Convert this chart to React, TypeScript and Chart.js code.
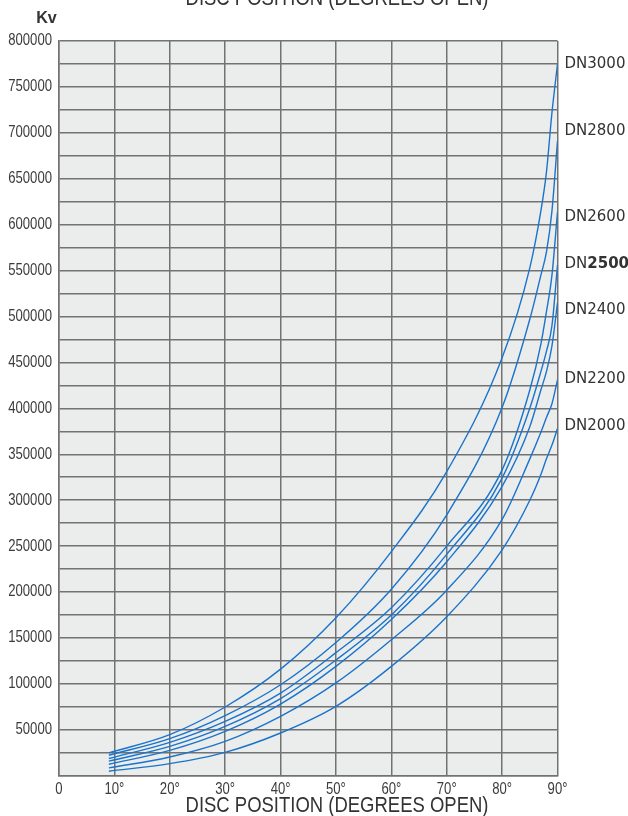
import React, { useEffect, useRef } from "react";
import { Chart, registerables } from "chart.js";

Chart.register(...registerables);

// ---------- data ----------
const ANGLES = [9, 20, 30, 40, 50, 60, 70, 80, 85, 87, 88, 89, 90];

const SERIES_NAMES = ["DN3000", "DN2800", "DN2600", "DN2500", "DN2400", "DN2200", "DN2000"];

const DN3000 = [24900, 44700, 74800, 116000, 172000, 244000, 331000, 455000, 553000, 615000, 657000, 722000, 775000];
const DN2800 = [22300, 40300, 65400, 99000, 145000, 203000, 284000, 401000, 497000, 545000, 570000, 615000, 691000];
const DN2600 = [18700, 36300, 59200, 90000, 134000, 183000, 250000, 333000, 420000, 470000, 505000, 545000, 614000];
const DN2500 = [15800, 31900, 53700, 84000, 126000, 175000, 241000, 324000, 400000, 440000, 462000, 490000, 556000];
const DN2400 = [12500, 27600, 48300, 78000, 119000, 170000, 233000, 315000, 380000, 420000, 440000, 468000, 515000];
const DN2200 = [8500, 20400, 37400, 64600, 101000, 148000, 202000, 279000, 345000, 374000, 390000, 405000, 431000];
const DN2000 = [4900, 13100, 25400, 46500, 75500, 119000, 173000, 246000, 300000, 328000, 345000, 360000, 378000];

const SERIES_VALUES = [DN3000, DN2800, DN2600, DN2500, DN2400, DN2200, DN2000];

const X_LABELS = ["0", "10°", "20°", "30°", "40°", "50°", "60°", "70°", "80°", "90°"];
const Y_LABELS = [50000, 100000, 150000, 200000, 250000, 300000, 350000, 400000, 450000, 500000, 550000, 600000, 650000, 700000, 750000, 800000];

const X_TITLE = "DISC POSITION (DEGREES OPEN)";
const Y_TITLE = "Kv";

// ---------- style ----------
const LINE_COLOR = "#1a74cc";
const GRID_COLOR = "#727272";
const PLOT_BG = "#ebecec";
const SANS = "'Liberation Sans', Arial, sans-serif";
const NARROW_SCALE = 0.82;
const LABEL_NUDGE = [0, -10, 5, -1, 7, -1, -2];

function narrowText(ctx: CanvasRenderingContext2D, text: string, x: number, y: number, squeeze: number) {
  ctx.save();
  ctx.translate(x, y);
  ctx.scale(squeeze, 1);
  ctx.fillText(text, 0, 0);
  ctx.restore();
}

export default function App() {
  const ref = useRef<HTMLCanvasElement | null>(null);

  useEffect(() => {
    if (!ref.current) return;

    const bgPlugin = {
      id: "plotBg",
      beforeDraw(chart: any) {
        const { ctx, chartArea } = chart;
        ctx.save();
        ctx.fillStyle = "#ffffff";
        ctx.fillRect(0, 0, chart.width, chart.height);
        ctx.fillStyle = PLOT_BG;
        ctx.fillRect(chartArea.left, chartArea.top, chartArea.right - chartArea.left, chartArea.bottom - chartArea.top);
        ctx.restore();
      },
    };

    const textPlugin = {
      id: "texts",
      afterDraw(chart: any) {
        const { ctx, chartArea } = chart;
        const ys = chart.scales.y;
        const xs = chart.scales.x;
        ctx.save();

        // tick labels (narrow face emulated)
        ctx.fillStyle = "#3c3c3c";
        ctx.font = `16px ${SANS}`;
        ctx.textBaseline = "middle";
        ctx.textAlign = "right";
        ys.ticks.forEach((t: any) => {
          if (Y_LABELS.includes(t.value)) {
            narrowText(ctx, String(t.value), chartArea.left - 7, ys.getPixelForValue(t.value), NARROW_SCALE);
          }
        });
        ctx.textAlign = "center";
        xs.ticks.forEach((t: any) => {
          const lbl = X_LABELS[Math.round(t.value / 10)];
          if (lbl !== undefined) {
            narrowText(ctx, lbl, xs.getPixelForValue(t.value), chartArea.bottom + 14, NARROW_SCALE);
          }
        });

        // titles
        ctx.fillStyle = "#333333";
        ctx.font = `22px ${SANS}`;
        ctx.textAlign = "center";
        ctx.textBaseline = "alphabetic";
        narrowText(ctx, X_TITLE, 337, 5, 0.84);
        ctx.textBaseline = "middle";
        narrowText(ctx, X_TITLE, 337, 806, 0.84);

        // Kv
        ctx.font = `bold 17px ${SANS}`;
        narrowText(ctx, Y_TITLE, 46.5, 18, 0.95);

        // series labels
        ctx.textAlign = "left";
        ctx.textBaseline = "middle";
        SERIES_NAMES.forEach((name, i) => {
          const vals = SERIES_VALUES[i];
          const y = ys.getPixelForValue(vals[vals.length - 1]) + LABEL_NUDGE[i];
          const x = chartArea.right + 7;
          const prefix = name.slice(0, 2);
          const num = name.slice(2);
          ctx.font = "15px 'DejaVu Sans', sans-serif";
          ctx.fillText(prefix, x, y);
          const w = ctx.measureText(prefix).width;
          ctx.font = (name === "DN2500" ? "bold " : "") + "15px 'DejaVu Sans', sans-serif";
          ctx.fillText(num, x + w, y);
        });
        ctx.restore();
      },
    };

    const chart = new Chart(ref.current, {
      type: "line",
      data: {
        datasets: SERIES_NAMES.map((name, i) => ({
          label: name,
          data: ANGLES.map((a, j) => ({ x: a, y: SERIES_VALUES[i][j] })),
          borderColor: LINE_COLOR,
          borderWidth: 1.4,
          pointRadius: 0,
          fill: false,
          cubicInterpolationMode: "monotone" as const,
        })),
      },
      options: {
        animation: false,
        responsive: false,
        devicePixelRatio: 1,
        layout: { padding: { top: 41, right: 70.5, bottom: 0, left: 0 } },
        plugins: { legend: { display: false }, tooltip: { enabled: false }, title: { display: false } },
        scales: {
          x: {
            type: "linear",
            min: 0,
            max: 90,
            afterFit: (s: any) => { s.height = 40.3; },
            ticks: { stepSize: 10, autoSkip: false, maxRotation: 0, display: false },
            grid: { color: GRID_COLOR, lineWidth: 1.5, drawTicks: false },
            border: { color: GRID_COLOR, width: 1.5 },
          },
          y: {
            min: 0,
            max: 800000,
            afterFit: (s: any) => { s.width = 59; },
            ticks: { stepSize: 25000, autoSkip: false, display: false },
            grid: { color: GRID_COLOR, lineWidth: 1.5, drawTicks: false },
            border: { color: GRID_COLOR, width: 1.5 },
          },
        },
      },
      plugins: [bgPlugin, textPlugin],
    });

    return () => chart.destroy();
  }, []);

  return (
    <div style={{ position: "fixed", left: 0, top: 0, width: 628, height: 816 }}>
      <canvas ref={ref} width={628} height={816} style={{ width: 628, height: 816, display: "block" }} />
    </div>
  );
}
